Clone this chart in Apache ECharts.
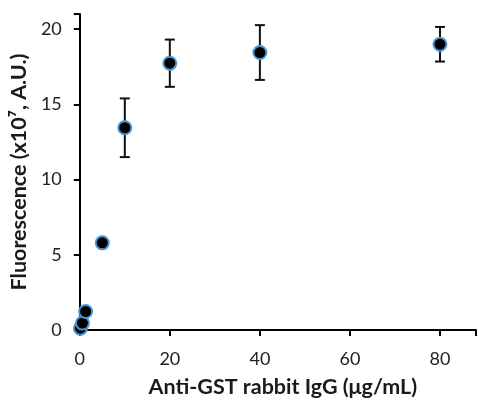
<!DOCTYPE html>
<html><head><meta charset="utf-8">
<script src="https://cdn.jsdelivr.net/npm/echarts@6/dist/echarts.min.js"></script>
<style>html,body{margin:0;padding:0;background:#fff}#c{width:479px;height:403px}</style>
</head><body><div id="c"></div>
<script>
const concentrations = [0.15, 0.6, 1.3, 5, 10, 20, 40, 80];
const fluorescence = [0.12, 0.46, 1.23, 5.79, 13.44, 17.73, 18.44, 18.99];
const errors = [0, 0, 0, 0, 1.95, 1.57, 1.82, 1.15];
const xTicks = [0, 20, 40, 60, 80];
const yTicks = [0, 5, 10, 15, 20];

const pts = concentrations.map((c, i) => [c, fluorescence[i]]);
const errData = concentrations.map((c, i) => [c, fluorescence[i] - errors[i], fluorescence[i] + errors[i]]).filter((d, i) => errors[i] > 0);

const chart = echarts.init(document.getElementById('c'));
const font = 'Lato';
chart.setOption({
  animation: false,
  grid: {left: 78, top: 14, right: 1, bottom: 71, containLabel: false},
  xAxis: {
    type: 'value', min: 0, max: 88, interval: 20,
    name: 'Anti-GST rabbit IgG (μg/mL)', nameLocation: 'middle', nameGap: 46,
    nameTextStyle: {fontFamily: font, fontWeight: 'bold', fontSize: 21.5, color: '#1a1a1a', padding: [0, 0, 0, 10]},
    axisLine: {lineStyle: {color: '#000', width: 2}},
    axisTick: {show: true, length: 6, inside: false, lineStyle: {color: '#000', width: 2}},
    axisLabel: {fontFamily: font, fontSize: 18, color: '#222', margin: 20, formatter: v => xTicks.includes(v) ? String(v) : ''},
    splitLine: {show: false}
  },
  yAxis: {
    type: 'value', min: 0, max: 21, interval: 5,
    name: 'Fluorescence (x10⁷, A.U.)', nameLocation: 'middle', nameGap: 41,
    nameTextStyle: {fontFamily: font, fontWeight: 'bold', fontSize: 21.5, color: '#1a1a1a'},
    axisLine: {show: true, lineStyle: {color: '#000', width: 2}},
    axisTick: {show: true, length: 6, lineStyle: {color: '#000', width: 2}},
    axisLabel: {fontFamily: font, fontSize: 18, color: '#222', margin: 18, formatter: v => yTicks.includes(v) ? String(v) : ''},
    splitLine: {show: false}
  },
  series: [
    {
      type: 'custom',
      data: errData,
      renderItem: function (params, api) {
        const x = api.value(0);
        const lo = api.coord([x, api.value(1)]);
        const hi = api.coord([x, api.value(2)]);
        const hw = 5;
        const st = {stroke: '#111', lineWidth: 2, fill: null};
        return {type: 'group', children: [
          {type: 'line', shape: {x1: lo[0], y1: lo[1], x2: hi[0], y2: hi[1]}, style: st},
          {type: 'line', shape: {x1: lo[0]-hw, y1: lo[1], x2: lo[0]+hw, y2: lo[1]}, style: st},
          {type: 'line', shape: {x1: hi[0]-hw, y1: hi[1], x2: hi[0]+hw, y2: hi[1]}, style: st}
        ]};
      },
      z: 2
    },
    {
      type: 'scatter',
      data: pts,
      symbol: 'circle', symbolSize: 13,
      itemStyle: {color: '#000', borderColor: '#4a94d4', borderWidth: 2, opacity: 1},
      z: 3
    }
  ]
});
</script></body></html>
